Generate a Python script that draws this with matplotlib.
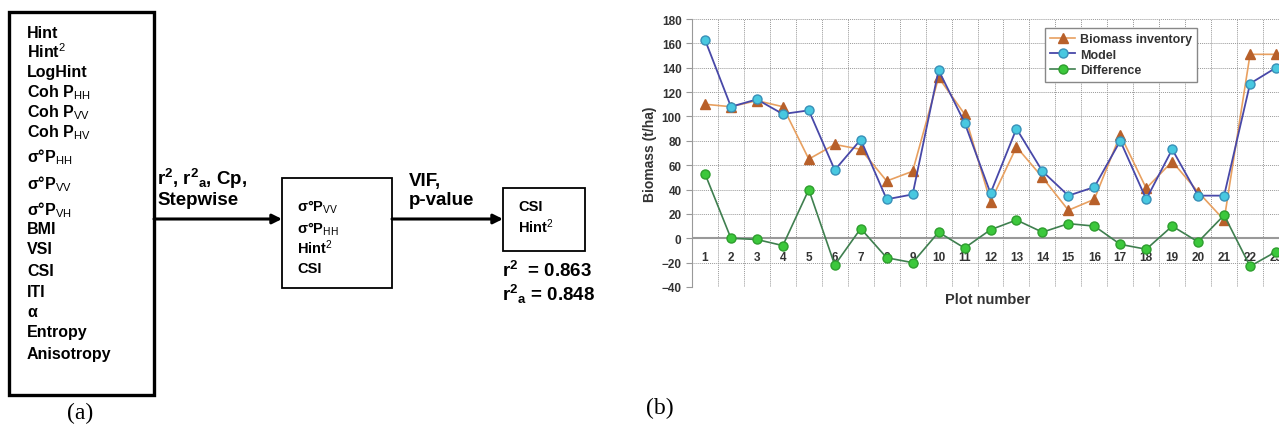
import numpy as np
import matplotlib
matplotlib.use('Agg')
import matplotlib.pyplot as plt
from matplotlib.patches import Rectangle

plt.rcParams['font.family'] = 'Liberation Sans'
plt.rcParams['mathtext.fontset'] = 'custom'
plt.rcParams['mathtext.rm'] = 'Liberation Sans'
plt.rcParams['mathtext.bf'] = 'Liberation Sans:bold'
plt.rcParams['mathtext.it'] = 'Liberation Sans:italic'

# data for panel (b)
plots = list(range(1, 24))
inventory = [110, 108, 113, 108, 65, 77, 73, 47, 55, 132, 102, 30, 75, 50, 23, 32, 85, 41, 63, 38, 15, 151, 151]
model = [163, 108, 114, 102, 105, 56, 81, 32, 36, 138, 95, 37, 90, 55, 35, 42, 80, 32, 73, 35, 35, 127, 140]
difference = [53, 0, -1, -6, 40, -22, 8, -16, -20, 5, -8, 7, 15, 5, 12, 10, -5, -9, 10, -3, 19, -23, -11]

# text for panel (a)
candidates = ['Hint', 'Hint$^{2}$', 'LogHint', r'Coh P$_{\mathrm{HH}}$', r'Coh P$_{\mathrm{VV}}$',
              r'Coh P$_{\mathrm{HV}}$', r'σ°P$_{\mathrm{HH}}$', r'σ°P$_{\mathrm{VV}}$', r'σ°P$_{\mathrm{VH}}$',
              'BMI', 'VSI', 'CSI', 'ITI', 'α', 'Entropy', 'Anisotropy']
cand_y = [33, 52, 73, 93, 113, 133, 157, 184, 210, 230, 250, 272, 293, 313, 333, 355]
selected = [r'σ°P$_{\mathrm{VV}}$', r'σ°P$_{\mathrm{HH}}$', 'Hint$^{2}$', 'CSI']
sel_y = [207, 229, 248, 269]
final = ['CSI', 'Hint$^{2}$']
final_y = [207, 227]

fig = plt.figure(figsize=(12.79, 4.31), dpi=100)

# ---- diagram (a), drawn in pixel coordinates
dax = fig.add_axes([0, 0, 1, 1])
dax.set_xlim(0, 1279)
dax.set_ylim(431, 0)
dax.axis('off')

dax.add_patch(Rectangle((9, 13), 145, 383, fill=False, lw=2.4, color='black'))
for t, y in zip(candidates, cand_y):
    dax.text(27, y, t, fontsize=11.5, fontweight='bold', va='center', ha='left')
dax.text(80, 413, '(a)', fontsize=17, family='Liberation Serif', ha='center', va='center')

dax.annotate('', xy=(282, 220), xytext=(154, 220),
             arrowprops=dict(arrowstyle='-|>', lw=2.2, color='black', mutation_scale=14, shrinkA=0, shrinkB=0))
dax.text(157, 179, r'r$^{\mathbf{2}}$, r$^{\mathbf{2}}$$_{\mathbf{a}}$, Cp,', fontsize=13.5, fontweight='bold', va='center')
dax.text(157, 201, 'Stepwise', fontsize=13.5, fontweight='bold', va='center')

dax.add_patch(Rectangle((282, 179), 110, 110, fill=False, lw=1.3, color='black'))
for t, y in zip(selected, sel_y):
    dax.text(297, y, t, fontsize=10.5, fontweight='bold', va='center')

dax.annotate('', xy=(503, 220), xytext=(392, 220),
             arrowprops=dict(arrowstyle='-|>', lw=2.2, color='black', mutation_scale=14, shrinkA=0, shrinkB=0))
dax.text(409, 182, 'VIF,', fontsize=13.5, fontweight='bold', va='center')
dax.text(409, 201, 'p-value', fontsize=13.5, fontweight='bold', va='center')

dax.add_patch(Rectangle((503, 189), 82, 63, fill=False, lw=1.3, color='black'))
for t, y in zip(final, final_y):
    dax.text(518, y, t, fontsize=10.5, fontweight='bold', va='center')
dax.text(502, 271, r'r$^{\mathbf{2}}$  = 0.863', fontsize=13.5, fontweight='bold', va='center')
dax.text(502, 294, r'r$^{\mathbf{2}}$$_{\mathbf{a}}$ = 0.848', fontsize=13.5, fontweight='bold', va='center')
dax.text(660, 408, '(b)', fontsize=17, family='Liberation Serif', ha='center', va='center')

# ---- chart (b)
ax = fig.add_axes([692 / 1279, 1 - 288 / 431, (1289 - 692) / 1279, 268 / 431])
ax.set_xlim(0.5, 23.5)
ax.set_ylim(-40, 180)
ax.set_yticks(np.arange(-40, 181, 20))
ax.set_xticks(np.arange(1.5, 23, 1))
ax.tick_params(axis='x', length=0, labelbottom=False)
ax.tick_params(axis='y', labelsize=8.5, colors='#333333', length=4, color='#999999')
for lab in ax.get_yticklabels():
    lab.set_fontweight('bold')
ax.grid(True, ls=(0, (1, 1)), color='#999999', lw=0.7)
for s in ['top', 'right', 'bottom']:
    ax.spines[s].set_visible(False)
ax.spines['left'].set_color('#999999')
ax.axhline(0, color='#999999', lw=1.5, zorder=1)

for p in plots:
    ax.text(p, -15, str(p), ha='center', va='center', fontsize=8.5, fontweight='bold', color='#333333', zorder=2)

ax.plot(plots, inventory, color='#E8A060', lw=1.2, marker='^', ms=7, mfc='#B8602A', mec='#B8602A',
        label='Biomass inventory', zorder=3)
ax.plot(plots, model, color='#4848A8', lw=1.3, marker='o', ms=6.5, mfc='#48C8E0', mec='#3890B8',
        label='Model', zorder=4)
ax.plot(plots, difference, color='#3F7F4F', lw=1.2, marker='o', ms=6.5, mfc='#3CC83C', mec='#2E9E2E',
        label='Difference', zorder=4)

ax.set_ylabel('Biomass (t/ha)', fontsize=10, fontweight='bold', color='#333333', labelpad=3)
fig.text(988 / 1279, 1 - 300 / 431, 'Plot number', fontsize=10.5, fontweight='bold', color='#333333',
         ha='center', va='center')

leg = ax.legend(loc='upper left', bbox_to_anchor=(1045 / 1279, 1 - 29 / 431), bbox_transform=fig.transFigure,
                fancybox=False, edgecolor='#888888', framealpha=1, fontsize=9, handlelength=2,
                borderpad=0.4, labelspacing=0.3, handletextpad=0.4, borderaxespad=0)
for t in leg.get_texts():
    t.set_fontweight('bold')
    t.set_color('#333333')

fig.savefig('out.png', dpi=100)
